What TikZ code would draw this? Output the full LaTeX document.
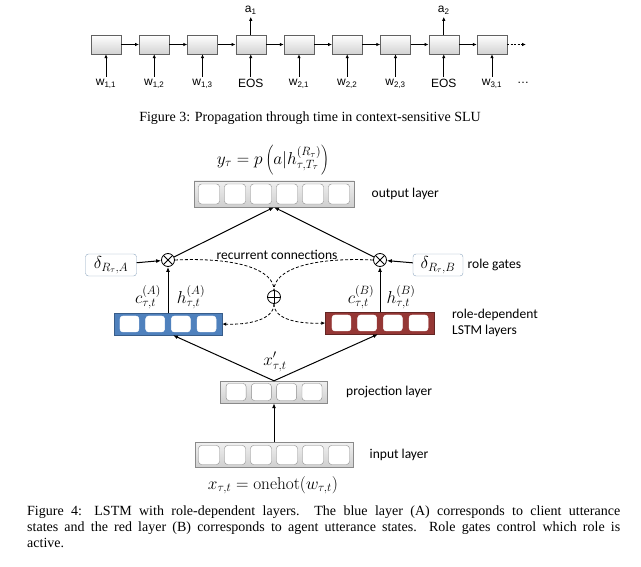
\documentclass[tikz,border=0pt]{standalone}
\usepackage[no-math]{fontspec}
\setmainfont{Liberation Serif}
\newfontfamily\carlito{Carlito}
\newfontfamily\arial{Liberation Sans}
\usetikzlibrary{arrows.meta,positioning,calc}
\definecolor{cgris}{HTML}{D2D2D2}
\definecolor{cgrisb}{HTML}{8A8A8A}
\definecolor{cazul}{HTML}{4F81BD}
\definecolor{cazulb}{HTML}{385D8A}
\definecolor{crojo}{HTML}{953735}
\definecolor{crojob}{HTML}{632523}
\definecolor{cdelta}{HTML}{8DA6BF}
\tikzset{
  caja/.style={draw=cgrisb!70!black,top color=white,bottom color=cgris,
               minimum width=30pt,minimum height=19pt,inner sep=0pt},
  capa/.style={draw=cgrisb,top color=gray!12,bottom color=gray!38,inner sep=0pt},
  capaa/.style={draw=cazulb,fill=cazul,inner sep=0pt},
  capab/.style={draw=crojob,fill=crojo,inner sep=0pt},
  celda/.style={draw=cgrisb,fill=white,rounded corners=3pt,inner sep=0pt,
                minimum width=20pt,minimum height=19pt},
  celdac/.style={celda,draw=white,minimum width=19pt,minimum height=16pt},
  compuerta/.style={draw=cdelta,fill=white,rounded corners=3pt,inner sep=2pt,
                    minimum height=22pt,font=\fontsize{17}{19}\selectfont},
  mult/.style={circle,draw,thick,inner sep=0pt,minimum size=13pt,
               path picture={\draw[thick] (path picture bounding box.north west) -- (path picture bounding box.south east)
                             (path picture bounding box.north east) -- (path picture bounding box.south west);}},
  suma/.style={circle,draw,thick,inner sep=0pt,minimum size=13pt,
               path picture={\draw[thick] (path picture bounding box.north) -- (path picture bounding box.south)
                             (path picture bounding box.east) -- (path picture bounding box.west);}},
  flecha/.style={-{Latex[length=5pt,width=4pt]},line width=1pt},
  flechap/.style={-{Latex[length=4pt,width=3.5pt]},line width=0.9pt},
  rec/.style={dash pattern=on 3pt off 2pt,line width=0.8pt},
  et/.style={font=\carlito\fontsize{13.5}{16}\selectfont,align=left},
  mat/.style={font=\fontsize{18}{20}\selectfont,inner sep=1pt},
  pal/.style={font=\arial\fontsize{12}{14}\selectfont,inner sep=2pt},
  leyenda/.style={font=\fontsize{14}{16}\selectfont,inner sep=0pt},
}

\begin{document}
\begin{tikzpicture}[x=1pt,y=-1pt]
\useasboundingbox (0,0) rectangle (641,567);

% ---------------- figura 3: cadena en el tiempo ----------------
\foreach \i in {1,...,9}
  \node[caja] (t\i) at ({106+48.25*(\i-1)},44.5) {};
\foreach \i [count=\j from 2] in {1,...,8}
  \draw[flechap] (t\i) -- (t\j);
\foreach \i/\lab in {1/w\textsubscript{1,1},2/w\textsubscript{1,2},3/w\textsubscript{1,3},4/EOS,
                     5/w\textsubscript{2,1},6/w\textsubscript{2,2},7/w\textsubscript{2,3},8/EOS,9/w\textsubscript{3,1}}{
  \node[pal] (w\i) at ($(t\i)+(0,39)$) {\lab};
  \draw[flechap] (w\i.north) -- (t\i.south);
}
\node[pal] (a1) at ($(t4)+(0,-34)$) {a\textsubscript{1}};
\node[pal] (a2) at ($(t8)+(0,-34)$) {a\textsubscript{2}};
\draw[flechap] (t4) -- (a1);
\draw[flechap] (t8) -- (a2);
\coordinate (tfin) at (526,44.5);
\draw[flechap,dash pattern=on 2pt off 1.5pt] (t9) -- (tfin);
\node[pal] (pts) at (523,83) {\dots};

\node[leyenda] (cap3) at (310,118) {Figure 3: Propagation through time in context-sensitive SLU};

% ---------------- figura 4: capas ----------------
\node[mat] (y) at (273,160) {$y_\tau = p\left(a|h^{(R_\tau)}_{\tau,T_\tau}\right)$};
\node[capa,minimum width=160pt,minimum height=26pt] (salida) at (274,194) {};
\foreach \k in {1,...,6}
  \node[celda,minimum width=21pt,minimum height=20pt] at ($(salida)+({(\k-3.5)*26},0)$) {};
\node[et,right=14pt of salida] (tsalida) {output layer};

\node[capaa,minimum width=108pt,minimum height=22pt] (lstma) at (168,324) {};
\foreach \k in {1,...,4}
  \node[celdac] at ($(lstma)+({(\k-2.5)*25.7},0)$) {};
\node[capab,minimum width=109pt,minimum height=22pt] (lstmb) at (380,323) {};
\foreach \k in {1,...,4}
  \node[celdac] at ($(lstmb)+({(\k-2.5)*25.7},0)$) {};
\node[et,right=14pt of lstmb] (tlstm) {role-dependent\\LSTM layers};

\node[capa,minimum width=107pt,minimum height=22pt] (proy) at (274,392) {};
\foreach \k in {1,...,4}
  \node[celda,minimum height=17pt] at ($(proy)+({(\k-2.5)*25.3},0)$) {};
\node[et,right=15pt of proy] (tproy) {projection layer};
\node[mat] (xp) at (275,362) {$x'_{\tau,t}$};

\node[capa,minimum width=158pt,minimum height=25pt] (entrada) at (274,455) {};
\foreach \k in {1,...,6}
  \node[celda,minimum width=21pt] at ($(entrada)+({(\k-3.5)*26},0)$) {};
\node[et,right=13pt of entrada] (tentrada) {input layer};
\node[mat] (x) at (273,485) {$x_{\tau,t} = \mathrm{onehot}(w_{\tau,t})$};

% compuertas y conexiones recurrentes
\node[mult] (ga) at (168,260) {};
\node[mult] (gb) at (380,260) {};
\node[suma] (sm) at (274,297) {};
\node[compuerta,minimum width=51pt] (da) at (111,265) {$\delta_{R_\tau,A}$};
\node[compuerta,minimum width=50pt] (db) at (438,265) {$\delta_{R_\tau,B}$};
\node[et,right=1pt of db] (tgates) {role gates};
\node[et] (trec) at (277,255) {recurrent\hspace{3pt}connections};

\node[mat] (ca) at (148,297) {$c^{(A)}_{\tau,t}$};
\node[mat] (ha) at (191,297) {$h^{(A)}_{\tau,t}$};
\node[mat] (cb) at (361,297) {$c^{(B)}_{\tau,t}$};
\node[mat] (hb) at (401,297) {$h^{(B)}_{\tau,t}$};

\draw[flecha] (entrada) -- (proy);
\draw[flecha] (proy.north) -- ([xshift=5pt]lstma.south);
\draw[flecha] (proy.north) -- ([xshift=-2pt]lstmb.south);
\draw[flecha] (lstma) -- (ga);
\draw[flecha] (lstmb) -- (gb);
\draw[flecha] (da) -- (ga);
\draw[flecha] (db) -- (gb);
\draw[flecha] (ga) -- (salida.south);
\draw[flecha] (gb) -- (salida.south);

\draw[rec] (ga.east) .. controls (238,257) and (274,270) .. (sm.north);
\draw[rec] (gb.west) .. controls (310,257) and (274,270) .. (sm.north);
\draw[rec,-{Latex[length=4pt,width=3.5pt]}] (sm.south) .. controls (274,320) and (248,325) .. (lstma.east);
\draw[rec,-{Latex[length=4pt,width=3.5pt]}] (sm.south) .. controls (274,320) and (300,324) .. (lstmb.west);

\node[leyenda,text width=593pt,align=justify,anchor=north west] (cap4) at (27,506)
 {Figure 4: LSTM with role-dependent layers.\ \ The blue layer (A) corresponds to client utterance\linebreak
  states and the red layer (B) corresponds to agent utterance states.\ \ Role gates control which role is\linebreak
  active.};

\end{tikzpicture}
\end{document}
